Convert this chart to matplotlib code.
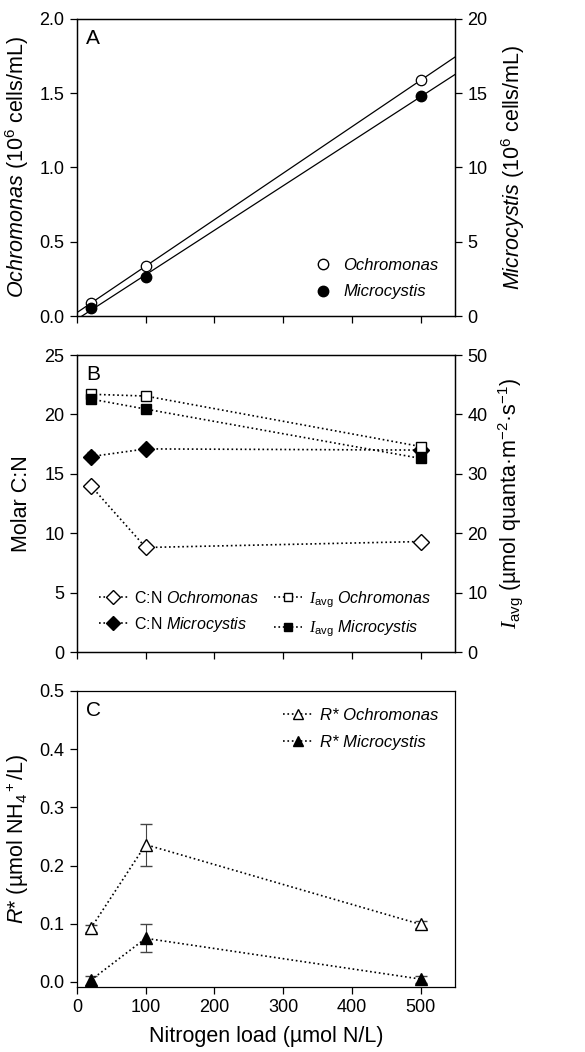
import numpy as np
import matplotlib
matplotlib.use("Agg")
import matplotlib.pyplot as plt
from matplotlib.ticker import FormatStrFormatter, MultipleLocator
from matplotlib.lines import Line2D

plt.rcParams['font.family'] = ['Liberation Sans', 'DejaVu Sans']
plt.rcParams['mathtext.fontset'] = 'custom'
plt.rcParams['mathtext.rm'] = 'Liberation Sans'
plt.rcParams['mathtext.it'] = 'Liberation Sans:italic'
plt.rcParams['mathtext.cal'] = 'Liberation Serif:italic'
plt.rcParams['mathtext.sf'] = 'Liberation Sans:italic'
plt.rcParams['axes.linewidth'] = 0.9

# ---------------- data ----------------
n_load = [20, 100, 500]
xticks = [0, 100, 200, 300, 400, 500]

# Panel A: cell densities
ochro_cells = [0.085, 0.337, 1.587]      # 10^6 cells/mL (left axis)
ochro_cells_err = [0.01, 0.015, 0.03]
micro_cells = [0.52, 2.61, 14.79]        # 10^6 cells/mL (right axis)
micro_cells_err = [0.1, 0.15, 0.2]

# Panel B: C:N and I_avg
cn_ochro = [14.0, 8.8, 9.3]
cn_ochro_err = [0.3, 0.2, 0.2]
cn_micro = [16.45, 17.1, 17.0]
cn_micro_err = [0.4, 0.3, 0.2]
iavg_ochro = [43.4, 43.1, 34.6]
iavg_micro = [42.6, 40.9, 32.6]

# Panel C: R*
rstar_ochro = [0.092, 0.236, 0.099]
rstar_ochro_err = [0.006, 0.036, 0.006]
rstar_micro = [0.003, 0.075, 0.005]
rstar_micro_err = [0.008, 0.024, 0.006]

TICK = 13
LAB = 15.5
LEG = 12
ERRC = '#444444'

fig = plt.figure(figsize=(5.85, 10.52), dpi=100)
left, width = 0.1316, 0.6462
axA = fig.add_axes([left, 0.6996, width, 0.2824])
axB = fig.add_axes([left, 0.3802, width, 0.2823])
axC = fig.add_axes([left, 0.0618, width, 0.2814])

def style(ax, labels=False):
    ax.set_xlim(0, 550)
    ax.set_xticks(xticks)
    ax.tick_params(direction='out', length=5, width=0.9, labelsize=TICK, pad=4)
    if not labels:
        ax.tick_params(axis='x', labelbottom=False)

# ---------------- Panel A ----------------
axA2 = axA.twinx()
style(axA)
axA.set_ylim(0, 2.0)
axA.yaxis.set_major_locator(MultipleLocator(0.5))
axA.yaxis.set_major_formatter(FormatStrFormatter('%.1f'))
axA2.set_ylim(0, 20)
axA2.yaxis.set_major_locator(MultipleLocator(5))
axA2.tick_params(direction='out', length=5, width=0.9, labelsize=TICK, pad=4)

xfit = np.array([0, 550])
po = np.polyfit(n_load, ochro_cells, 1)
pm = np.polyfit(n_load, micro_cells, 1)
axA.plot(xfit, np.polyval(po, xfit), color='black', lw=0.9)
axA2.plot(xfit, np.polyval(pm, xfit), color='black', lw=0.9)
axA.errorbar(n_load, ochro_cells, yerr=ochro_cells_err, fmt='o', mfc='white',
             mec='black', ms=7.5, mew=0.9, ecolor=ERRC, elinewidth=0.8, capsize=0, zorder=3)
axA2.errorbar(n_load, micro_cells, yerr=micro_cells_err, fmt='o', mfc='black',
              mec='black', ms=7.5, ecolor=ERRC, elinewidth=0.8, capsize=0, zorder=3)
axA.set_ylabel(r'$\mathit{Ochromonas}$ (10$^6$ cells/mL)', fontsize=LAB, labelpad=6)
axA2.set_ylabel(r'$\mathit{Microcystis}$ (10$^6$ cells/mL)', fontsize=LAB, labelpad=8)
axA.text(0.025, 0.965, 'A', transform=axA.transAxes, fontsize=15, va='top', ha='left')
hA = [Line2D([], [], ls='none', marker='o', mfc='white', mec='black', ms=7.5),
      Line2D([], [], ls='none', marker='o', mfc='black', mec='black', ms=7.5)]
axA2.legend(hA, ['Ochromonas', 'Microcystis'], loc='lower right', frameon=False,
            prop={'size': LEG, 'style': 'italic'}, handletextpad=0.2,
            borderaxespad=0.6, labelspacing=0.7)

# ---------------- Panel B ----------------
axB2 = axB.twinx()
style(axB)
axB.set_ylim(0, 25)
axB.yaxis.set_major_locator(MultipleLocator(5))
axB2.set_ylim(0, 50)
axB2.yaxis.set_major_locator(MultipleLocator(10))
axB2.tick_params(direction='out', length=5, width=0.9, labelsize=TICK, pad=4)

axB.errorbar(n_load, cn_ochro, yerr=cn_ochro_err, ls=':', lw=1.2, color='black',
             marker='D', mfc='white', mec='black', ms=8, mew=1.0,
             ecolor=ERRC, elinewidth=0.8, capsize=3, zorder=3)
axB.errorbar(n_load, cn_micro, yerr=cn_micro_err, ls=':', lw=1.2, color='black',
             marker='D', mfc='black', mec='black', ms=8,
             ecolor=ERRC, elinewidth=0.8, capsize=3, zorder=3)
axB2.plot(n_load, iavg_ochro, ls=':', lw=1.2, color='black', marker='s',
          mfc='white', mec='black', ms=7.5, mew=1.0, zorder=3)
axB2.plot(n_load, iavg_micro, ls=':', lw=1.2, color='black', marker='s',
          mfc='black', mec='black', ms=7.5, zorder=4)
axB.set_ylabel('Molar C:N', fontsize=LAB, labelpad=9)
axB2.set_ylabel(r'$\mathcal{I}_{\mathrm{avg}}$ (µmol quanta·m$^{-2}$·s$^{-1}$)', fontsize=LAB, labelpad=6)
axB.text(0.025, 0.965, 'B', transform=axB.transAxes, fontsize=15, va='top', ha='left')
hB = [Line2D([], [], ls=':', lw=1.2, color='black', marker='D', mfc='white', mec='black', ms=7),
      Line2D([], [], ls=':', lw=1.2, color='black', marker='D', mfc='black', mec='black', ms=7),
      Line2D([], [], ls=':', lw=1.2, color='black', marker='s', mfc='white', mec='black', ms=6),
      Line2D([], [], ls=':', lw=1.2, color='black', marker='s', mfc='black', mec='black', ms=6)]
lB = [r'C:N $\mathit{Ochromonas}$', r'C:N $\mathit{Microcystis}$',
      r'$\mathcal{I}_{\mathrm{avg}}$ $\mathit{Ochromonas}$', r'$\mathcal{I}_{\mathrm{avg}}$ $\mathit{Microcystis}$']
axB2.legend(hB, lB, loc='lower left', bbox_to_anchor=(0.02, -0.005), ncol=2,
            frameon=False, fontsize=11.5, handlelength=1.8, handletextpad=0.4,
            columnspacing=0.9, labelspacing=0.55)

# ---------------- Panel C ----------------
style(axC, labels=True)
axC.set_ylim(-0.0086, 0.5)
axC.yaxis.set_major_locator(MultipleLocator(0.1))
axC.yaxis.set_major_formatter(FormatStrFormatter('%.1f'))
axC.errorbar(n_load, rstar_ochro, yerr=rstar_ochro_err, ls=':', lw=1.2, color='black',
             marker='^', mfc='white', mec='black', ms=8.5, mew=1.0,
             ecolor=ERRC, elinewidth=0.8, capsize=4, zorder=3)
axC.errorbar(n_load, rstar_micro, yerr=rstar_micro_err, ls=':', lw=1.2, color='black',
             marker='^', mfc='black', mec='black', ms=8.5,
             ecolor=ERRC, elinewidth=0.8, capsize=4, zorder=3)
axC.set_ylabel(r'$\mathit{R}$* (µmol NH$_4$$^+$/L)', fontsize=LAB, labelpad=6)
axC.set_xlabel('Nitrogen load (µmol N/L)', fontsize=LAB, labelpad=7)
axC.text(0.025, 0.965, 'C', transform=axC.transAxes, fontsize=15, va='top', ha='left')
hC = [Line2D([], [], ls=':', lw=1.2, color='black', marker='^', mfc='white', mec='black', ms=7.5),
      Line2D([], [], ls=':', lw=1.2, color='black', marker='^', mfc='black', mec='black', ms=7.5)]
axC.legend(hC, ['R* Ochromonas', 'R* Microcystis'], loc='upper right', frameon=False,
           prop={'size': LEG, 'style': 'italic'}, handlelength=1.8, handletextpad=0.4,
           borderaxespad=0.6, labelspacing=0.75)

fig.savefig('out.png', dpi=100)
